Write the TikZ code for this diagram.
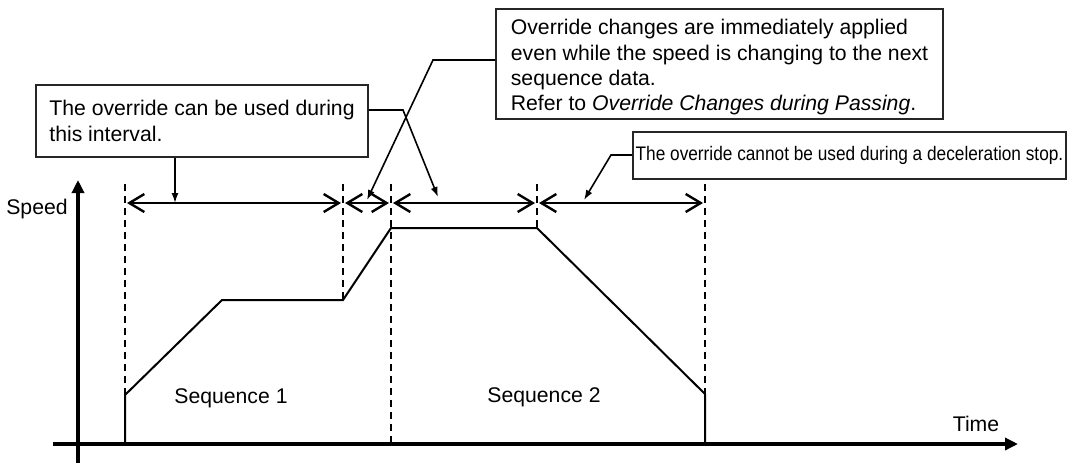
\documentclass[tikz,border=0pt]{standalone}
\usepackage{fontspec}
\setmainfont{Liberation Sans}
\newfontfamily\narrowfont[FakeStretch=0.88]{Liberation Sans}
\usetikzlibrary{arrows.meta}

\begin{document}
\begin{tikzpicture}[x=1pt, y=-1pt,
    txt/.style={font=\fontsize{21.2}{25.4}\selectfont, inner sep=0pt, anchor=base},
    note/.style={draw=black!85, line width=1.8pt, fill=white, align=left,
      font=\fontsize{21.2}{25.4}\selectfont, inner xsep=12pt, inner ysep=0pt},
    axis/.style={line width=3.6pt, -{Triangle[length=13pt,width=12pt]}},
    guide/.style={line width=1.5pt, dash pattern=on 7pt off 5pt},
    span/.style={line width=2.4pt,
      {Straight Barb[length=15pt,width=18pt]}-{Straight Barb[length=15pt,width=18pt]}},
    profile/.style={line width=2pt},
    callout/.style={line width=1.6pt, -{Latex[length=10pt,width=7pt]}}]
  \useasboundingbox (0,0) rectangle (1067,464);

  % Dashed guides
  \foreach \x/\y in {125/395, 343/300, 391/444, 537/228, 705/394} {
    \draw[guide] (\x,184) -- (\x,\y);
  }

  % Speed profile
  \draw[profile] (125,444) -- (125,395) -- (222,300) -- (343,300)
    -- (391,228) -- (537,228) -- (705,394) -- (705,444);

  % Axes
  \draw[axis] (78,463) -- (78,180);
  \draw[axis] (53,444) -- (1018,444);
  \node[txt] (speed) at (37,214) {Speed};
  \node[txt] (time) at (976,431) {Time};
  \node[txt] (seq1) at (231,403) {Sequence 1};
  \node[txt] (seq2) at (544,402) {Sequence 2};

  % Intervals
  \foreach \a/\b in {125/343, 343/391, 391/537, 537/705} {
    \draw[span] (\a+2,203) -- (\b-2,203);
  }

  % Notes
  \node[note, minimum width=332pt, minimum height=72pt]
    (usable) at (202,121) {The override can be used during\\this interval.};
  \node[note, minimum width=447pt, minimum height=110pt]
    (passing) at (719.5,64) {\rule{0pt}{22pt}Override changes are immediately applied\\
    even while the speed is changing to the next\\sequence data.\\
    Refer to \textit{Override Changes during Passing}.};
  \node[note, inner xsep=0pt, minimum width=433pt, minimum height=47pt,
    font=\narrowfont\fontsize{19.6}{22}\selectfont]
    (decel) at (849.5,155.5) {The override cannot be used during a deceleration stop.};

  % Callouts
  \coordinate (tipA) at (175,203);
  \coordinate (kneeB) at (433,60);
  \coordinate (tipB) at (367,200);
  \coordinate (kneeC) at (403,110);
  \coordinate (tipC) at (438,197);
  \coordinate (kneeD) at (611,155);
  \coordinate (tipD) at (584,200);
  \draw[callout] (usable.south -| tipA) -- (tipA);
  \draw[callout] (kneeB -| passing.west) -- (kneeB) -- (tipB);
  \draw[callout] (kneeC -| usable.east) -- (kneeC) -- (tipC);
  \draw[callout] (kneeD -| decel.west) -- (kneeD) -- (tipD);
\end{tikzpicture}
\end{document}
